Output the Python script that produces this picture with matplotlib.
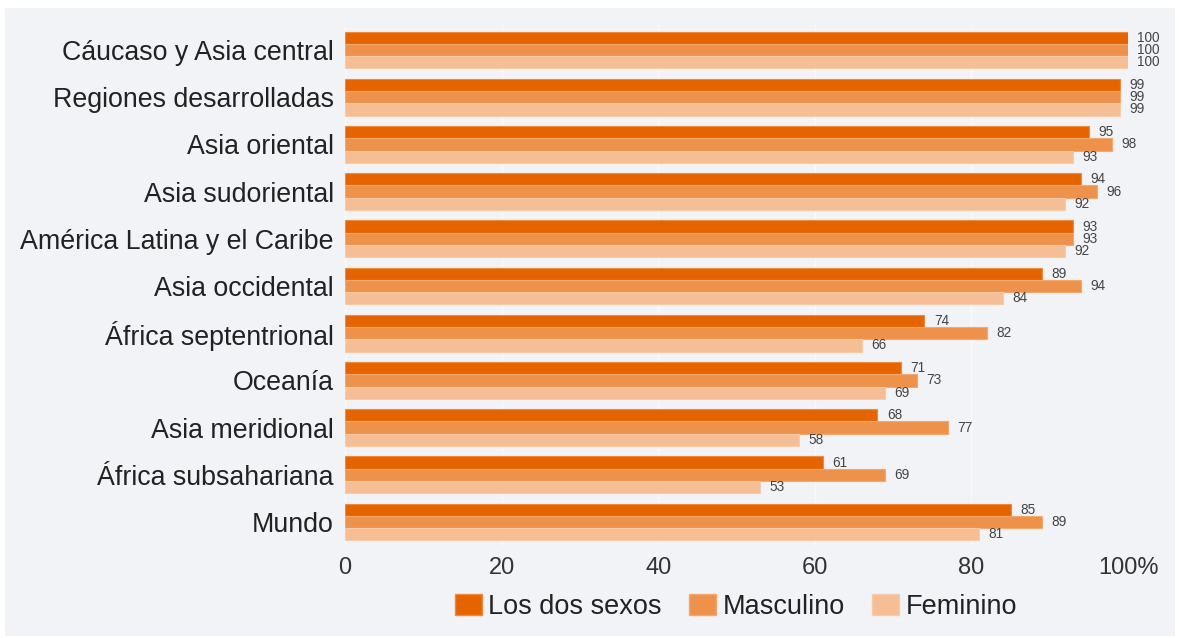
import matplotlib
matplotlib.use("Agg")
import matplotlib.pyplot as plt
from matplotlib.patches import Rectangle, Patch
import numpy as np

categories = ["Cáucaso y Asia central", "Regiones desarrolladas", "Asia oriental",
              "Asia sudoriental", "América Latina y el Caribe", "Asia occidental",
              "África septentrional", "Oceanía", "Asia meridional",
              "África subsahariana", "Mundo"]
ambos = [100, 99, 95, 94, 93, 89, 74, 71, 68, 61, 85]
masculino = [100, 99, 98, 96, 93, 94, 82, 73, 77, 69, 89]
femenino = [100, 99, 93, 92, 92, 84, 66, 69, 58, 53, 81]
series_names = ["Los dos sexos", "Masculino", "Feminino"]
xticks = [0, 20, 40, 60, 80, 100]
xtick_labels = ["0", "20", "40", "60", "80", "100%"]

colors = ["#E66400", "#EE914B", "#F5BE94"]
edges = ["#F08A3C", "#F3A86E", "#F7CBA8"]
bg = "#F1F3F7"

plt.rcParams['font.family'] = ['Liberation Sans', 'DejaVu Sans']

fig = plt.figure(figsize=(11.79, 6.38), dpi=100)
fig.patch.set_facecolor("white")
fig.patches.append(Rectangle((5/1179, 2/638), 1170/1179, 628/638,
                             transform=fig.transFigure, facecolor=bg,
                             edgecolor="none", zorder=-10))

ax = fig.add_axes([345/1179, 1 - 545.6/638, (1128 - 345)/1179, (545.6 - 26.4)/638])
ax.set_facecolor(bg)

y = np.arange(len(categories))
h = 0.26
for i, (vals, c, e) in enumerate(zip([ambos, masculino, femenino], colors, edges)):
    pos = y + (i - 1) * h
    ax.barh(pos, vals, height=h, color=c, edgecolor=e, linewidth=0.8, zorder=3,
            label=series_names[i])
    for p, v in zip(pos, vals):
        ax.text(v + 1.2, p, str(v), va="center", ha="left", fontsize=9.8,
                color="#444444", zorder=4)

ax.set_ylim(len(categories) - 0.5, -0.5)
ax.set_xlim(0, 100)
ax.set_yticks(y)
ax.set_yticklabels(categories, fontsize=19.3, color="#222222")
ax.tick_params(axis="both", length=0)
ax.set_xticks(xticks)
ax.set_xticklabels(xtick_labels, fontsize=17, color="#333333")
ax.tick_params(axis="y", pad=8)
ax.tick_params(axis="x", pad=8)
for s in ax.spines.values():
    s.set_visible(False)
ax.grid(axis="x", color="#F8F9FB", linewidth=1, zorder=0)
ax.set_axisbelow(True)

handles = [Patch(facecolor=c, edgecolor=e) for c, e in zip(colors, edges)]
fig.legend(handles, series_names, loc="center", bbox_to_anchor=(736/1179, 1 - 607/638),
           ncol=3, frameon=False, fontsize=19.5, handlelength=1.0, handleheight=0.8,
           handletextpad=0.25, columnspacing=1.0, labelcolor="#222222")

fig.savefig("out.png", dpi=100, facecolor=fig.get_facecolor())
